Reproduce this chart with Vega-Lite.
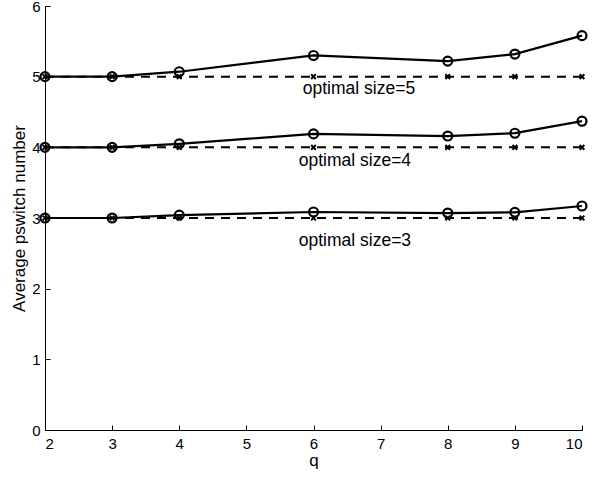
{
  "$schema": "https://vega.github.io/schema/vega-lite/v6.json",
  "autosize": {"type": "none"},
  "padding": {"left": 45, "top": 6, "right": 10, "bottom": 51},
  "width": 537,
  "height": 424,
  "background": "white",
  "config": {
    "view": {"stroke": null},
    "font": "Liberation Sans",
    "axis": {
      "grid": false,
      "domainColor": "black",
      "domainWidth": 1,
      "tickColor": "black",
      "tickWidth": 1,
      "tickSize": -5,
      "labelColor": "black",
      "labelFont": "Liberation Sans",
      "labelFontSize": 15,
      "titleFont": "Liberation Sans",
      "titleFontSize": 17,
      "titleFontWeight": "normal",
      "titleColor": "black"
    }
  },
  "datasets": {
    "series": [
      {"q": 2, "size": "5", "kind": "actual", "value": 5.0},
      {"q": 3, "size": "5", "kind": "actual", "value": 5.0},
      {"q": 4, "size": "5", "kind": "actual", "value": 5.07},
      {"q": 6, "size": "5", "kind": "actual", "value": 5.3},
      {"q": 8, "size": "5", "kind": "actual", "value": 5.22},
      {"q": 9, "size": "5", "kind": "actual", "value": 5.32},
      {"q": 10, "size": "5", "kind": "actual", "value": 5.58},
      {"q": 2, "size": "4", "kind": "actual", "value": 4.0},
      {"q": 3, "size": "4", "kind": "actual", "value": 4.0},
      {"q": 4, "size": "4", "kind": "actual", "value": 4.05},
      {"q": 6, "size": "4", "kind": "actual", "value": 4.19},
      {"q": 8, "size": "4", "kind": "actual", "value": 4.16},
      {"q": 9, "size": "4", "kind": "actual", "value": 4.2},
      {"q": 10, "size": "4", "kind": "actual", "value": 4.37},
      {"q": 2, "size": "3", "kind": "actual", "value": 3.0},
      {"q": 3, "size": "3", "kind": "actual", "value": 3.0},
      {"q": 4, "size": "3", "kind": "actual", "value": 3.04},
      {"q": 6, "size": "3", "kind": "actual", "value": 3.085},
      {"q": 8, "size": "3", "kind": "actual", "value": 3.07},
      {"q": 9, "size": "3", "kind": "actual", "value": 3.08},
      {"q": 10, "size": "3", "kind": "actual", "value": 3.17},
      {"q": 2, "size": "5", "kind": "optimal", "value": 5},
      {"q": 3, "size": "5", "kind": "optimal", "value": 5},
      {"q": 4, "size": "5", "kind": "optimal", "value": 5},
      {"q": 6, "size": "5", "kind": "optimal", "value": 5},
      {"q": 8, "size": "5", "kind": "optimal", "value": 5},
      {"q": 9, "size": "5", "kind": "optimal", "value": 5},
      {"q": 10, "size": "5", "kind": "optimal", "value": 5},
      {"q": 2, "size": "4", "kind": "optimal", "value": 4},
      {"q": 3, "size": "4", "kind": "optimal", "value": 4},
      {"q": 4, "size": "4", "kind": "optimal", "value": 4},
      {"q": 6, "size": "4", "kind": "optimal", "value": 4},
      {"q": 8, "size": "4", "kind": "optimal", "value": 4},
      {"q": 9, "size": "4", "kind": "optimal", "value": 4},
      {"q": 10, "size": "4", "kind": "optimal", "value": 4},
      {"q": 2, "size": "3", "kind": "optimal", "value": 3},
      {"q": 3, "size": "3", "kind": "optimal", "value": 3},
      {"q": 4, "size": "3", "kind": "optimal", "value": 3},
      {"q": 6, "size": "3", "kind": "optimal", "value": 3},
      {"q": 8, "size": "3", "kind": "optimal", "value": 3},
      {"q": 9, "size": "3", "kind": "optimal", "value": 3},
      {"q": 10, "size": "3", "kind": "optimal", "value": 3}
    ],
    "notes": [
      {"q": 5.84, "value": 4.75, "label": "optimal size=5"},
      {"q": 5.78, "value": 3.73, "label": "optimal size=4"},
      {"q": 5.78, "value": 2.6, "label": "optimal size=3"}
    ]
  },
  "encoding": {
    "x": {
      "field": "q", "type": "quantitative",
      "scale": {"domain": [2, 10], "nice": false, "zero": false},
      "axis": {"values": [2, 3, 4, 5, 6, 7, 8, 9, 10], "title": "q", "labelPadding": 11, "titlePadding": 1}
    },
    "y": {
      "field": "value", "type": "quantitative",
      "scale": {"domain": [0, 6], "nice": false},
      "axis": {"values": [0, 1, 2, 3, 4, 5, 6], "title": "Average pswitch number", "labelPadding": 10, "titlePadding": 3}
    }
  },
  "layer": [
    {
      "data": {"name": "series"},
      "transform": [{"filter": "datum.kind === 'optimal'"}],
      "mark": {"type": "line", "color": "black", "strokeWidth": 2, "strokeDash": [9, 7], "clip": false},
      "encoding": {"detail": {"field": "size"}}
    },
    {
      "data": {"name": "series"},
      "transform": [{"filter": "datum.kind === 'actual'"}],
      "mark": {"type": "line", "color": "black", "strokeWidth": 2.2, "clip": false},
      "encoding": {"detail": {"field": "size"}}
    },
    {
      "data": {"name": "series"},
      "transform": [{"filter": "datum.kind === 'actual'"}],
      "mark": {"type": "point", "shape": "circle", "filled": false, "color": "black", "strokeWidth": 2.2, "size": 80, "opacity": 1, "clip": false}
    },
    {
      "data": {"name": "series"},
      "transform": [{"filter": "datum.kind === 'optimal'"}],
      "mark": {"type": "point", "shape": "M-1,-1L1,1M-1,1L1,-1", "filled": false, "color": "black", "strokeWidth": 2, "size": 22, "opacity": 1, "clip": false}
    },
    {
      "data": {"name": "notes"},
      "mark": {"type": "text", "align": "left", "baseline": "alphabetic", "font": "Liberation Sans", "fontSize": 17.5, "color": "black"},
      "encoding": {"text": {"field": "label"}}
    }
  ]
}
